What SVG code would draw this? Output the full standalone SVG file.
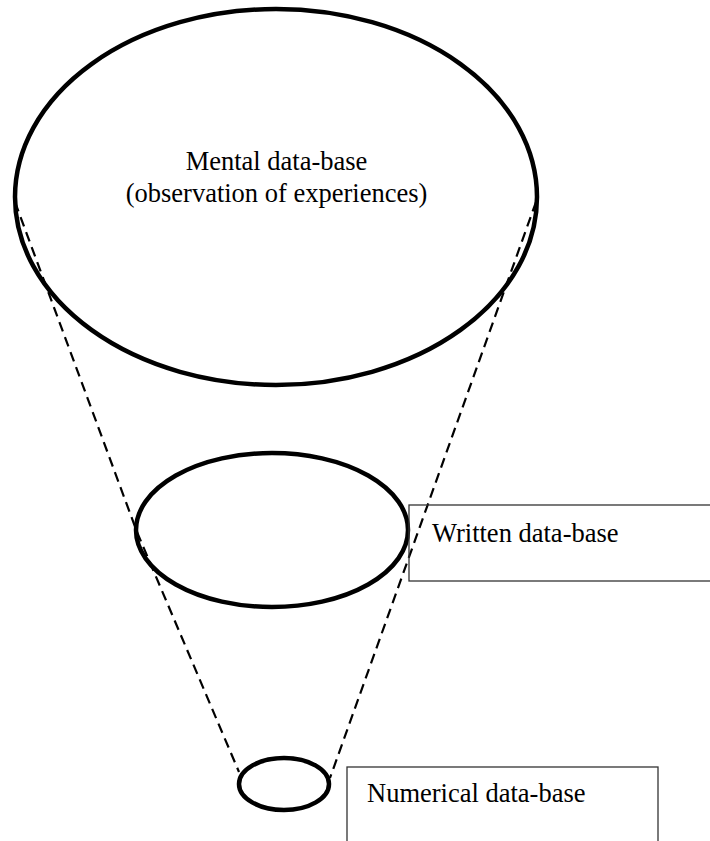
<svg xmlns="http://www.w3.org/2000/svg" width="710" height="841" viewBox="0 0 710 841">
  <style>
    .db { fill: none; stroke: #000; stroke-width: 4.5; }
    .cone { fill: none; stroke: #000; stroke-width: 2.2; stroke-dasharray: 10 6; }
    .box { fill: none; stroke: #333; stroke-width: 1.3; }
    .lbl { font-family: "Liberation Serif", "Times New Roman", serif; font-size: 26.5px; fill: #000; }
  </style>
  <rect width="710" height="841" fill="#fff"/>

  <!-- dashed cone joining the three data-bases -->
  <g id="connectors">
    <polyline class="cone" points="15,202 137,532 239,772"/>
    <line class="cone" x1="536" y1="202" x2="330" y2="778"/>
  </g>

  <g id="mental">
    <ellipse class="db" cx="276" cy="197" rx="261" ry="188"/>
    <text class="lbl" x="276.5" y="170" text-anchor="middle">Mental data-base</text>
    <text class="lbl" x="276.5" y="202" text-anchor="middle">(observation of experiences)</text>
  </g>

  <g id="written">
    <ellipse class="db" cx="272" cy="530" rx="136" ry="77"/>
  </g>

  <g id="written-label">
    <rect class="box" x="409" y="505" width="320" height="76"/>
    <text class="lbl" x="432" y="542">Written data-base</text>
  </g>

  <g id="numerical">
    <ellipse class="db" cx="284" cy="784" rx="45" ry="26"/>
  </g>

  <g id="numerical-label">
    <rect class="box" x="347" y="767" width="311" height="90"/>
    <text class="lbl" x="367" y="802">Numerical data-base</text>
  </g>
</svg>
